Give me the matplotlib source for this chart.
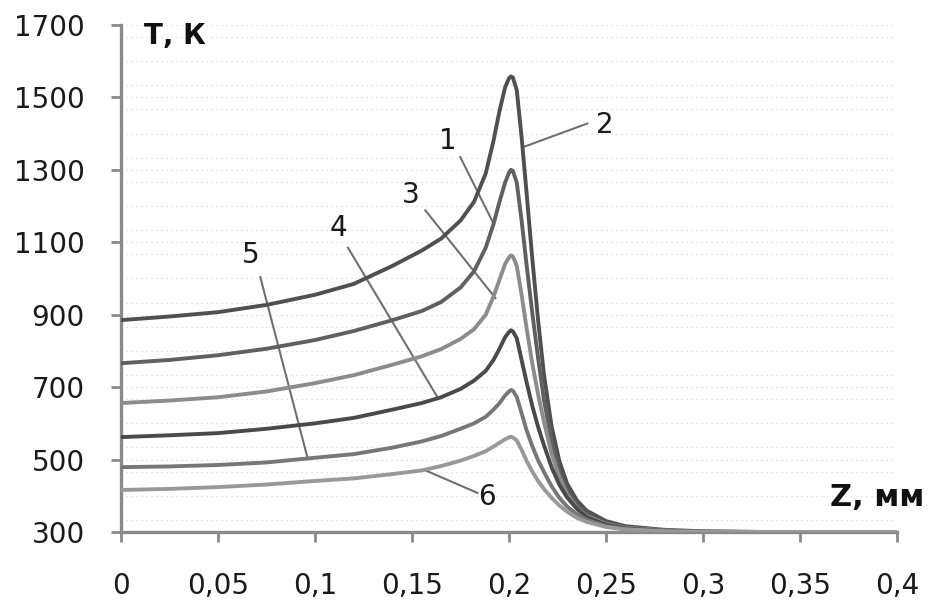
import matplotlib.pyplot as plt
from matplotlib.ticker import MultipleLocator

# distance along the axis, mm
z = [0, 0.025, 0.05, 0.075, 0.1, 0.12, 0.14, 0.155, 0.165, 0.175, 0.182, 0.188,
     0.192, 0.195, 0.198, 0.2, 0.201, 0.202, 0.204, 0.2065, 0.209, 0.212, 0.215,
     0.218, 0.222, 0.226, 0.23, 0.235, 0.24, 0.25, 0.26, 0.28, 0.3, 0.33, 0.36, 0.4]

# temperature, K (curves numbered as on the chart)
t2 = [885, 895, 907, 927, 955, 985, 1035, 1077, 1110, 1160, 1212, 1290,
      1380, 1460, 1528, 1553, 1558, 1555, 1520, 1390, 1240, 1055, 885,
      735, 590, 495, 433, 387, 359, 330, 316, 306, 302, 300, 300, 300]
t1 = [766, 775, 788, 806, 830, 855, 885, 910, 935, 975, 1020, 1085,
      1150, 1210, 1265, 1292, 1300, 1297, 1265, 1160, 1040, 905, 780,
      665, 548, 466, 414, 373, 349, 324, 313, 304, 301, 300, 300, 300]
t3 = [656, 663, 672, 688, 711, 733, 762, 785, 805, 833, 860, 900,
      950, 995, 1040, 1058, 1064, 1061, 1035, 955, 865, 765, 680,
      605, 515, 450, 403, 366, 344, 322, 312, 304, 301, 300, 300, 300]
t4 = [562, 567, 573, 585, 600, 615, 638, 656, 672, 695, 718, 745,
      775, 805, 838, 852, 857, 854, 835, 775, 715, 648, 590,
      540, 478, 430, 395, 364, 341, 320, 310, 303, 300, 300, 300, 300]
t5 = [479, 481, 485, 492, 505, 515, 533, 550, 565, 585, 600, 618,
      638, 655, 677, 688, 692, 690, 673, 628, 582, 537, 498,
      466, 426, 394, 370, 349, 334, 316, 308, 302, 300, 300, 300, 300]
t6 = [416, 419, 424, 431, 441, 448, 460, 470, 482, 497, 510, 523,
      536, 546, 556, 561, 563, 561, 553, 527, 497, 467, 441,
      419, 394, 373, 356, 339, 328, 314, 307, 302, 300, 300, 300, 300]

curves = [(t2, '#505050'), (t1, '#606060'), (t3, '#8c8c8c'),
          (t4, '#4a4a4a'), (t5, '#777777'), (t6, '#999999')]

# label text, text position, leader start, leader end (data coords)
labels = [('1', (0.1687, 1381), (0.1749, 1335), (0.1919, 1153)),
          ('2', (0.2496, 1423), (0.2404, 1428), (0.2069, 1362)),
          ('3', (0.1496, 1230), (0.1569, 1188), (0.1930, 946)),
          ('4', (0.1120, 1140), (0.1170, 1085), (0.1636, 668)),
          ('5', (0.0667, 1064), (0.0718, 1004), (0.0960, 508)),
          ('6', (0.1888, 397), (0.1837, 408), (0.1570, 470))]

fig = plt.figure(figsize=(9.29, 6.02), dpi=100)
ax = fig.add_axes([0.1302, 0.1163, 0.8354, 0.8422])

ax.yaxis.set_minor_locator(MultipleLocator(200 / 3))
ax.grid(axis='y', which='both', color='#d9d9d9', linestyle=(0, (1, 3)), linewidth=0.9)
ax.set_axisbelow(True)

for t, c in curves:
    ax.plot(z, t, color=c, linewidth=2.8, solid_joinstyle='round', solid_capstyle='round', zorder=3)

for txt, pos, p0, p1 in labels:
    ax.plot([p0[0], p1[0]], [p0[1], p1[1]], color='#707070', linewidth=1.5, zorder=2)
    ax.text(pos[0], pos[1], txt, fontsize=20, ha='center', va='center', color='#1a1a1a')

ax.set_xlim(0, 0.4)
ax.set_ylim(300, 1700)
ax.set_xticks([0, 0.05, 0.1, 0.15, 0.2, 0.25, 0.3, 0.35, 0.4])
ax.set_xticklabels(['0', '0,05', '0,1', '0,15', '0,2', '0,25', '0,3', '0,35', '0,4'])
ax.set_yticks(range(300, 1701, 200))

for side in ['top', 'right']:
    ax.spines[side].set_visible(False)
for side in ['left', 'bottom']:
    ax.spines[side].set_color('#8a8a8a')
    ax.spines[side].set_linewidth(2.4)

ax.tick_params(which='major', direction='out', length=7, width=2, color='#8a8a8a',
               labelsize=20, labelcolor='#1a1a1a')
ax.tick_params(axis='x', which='major', pad=22)
ax.tick_params(axis='y', which='major', pad=19)
ax.tick_params(which='minor', length=0)

fig.text(0.155, 0.94, 'Т, К', fontsize=20, fontweight='bold', ha='left', va='center', color='#111111')
fig.text(0.995, 0.174, 'Z, мм', fontsize=22, fontweight='bold', ha='right', va='center', color='#111111')

fig.savefig('out.png', dpi=100)
